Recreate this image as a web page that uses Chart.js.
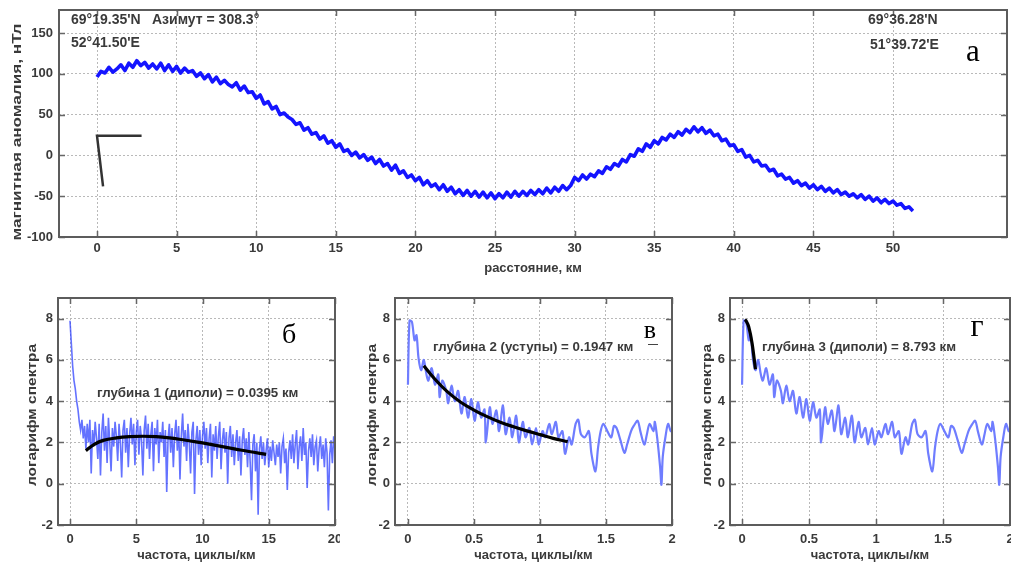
<!DOCTYPE html>
<html><head><meta charset="utf-8">
<script src="https://cdn.jsdelivr.net/npm/chart.js@4/dist/chart.umd.min.js"></script>
<style>
html,body{margin:0;padding:0;background:#fff;}
#fig{position:relative;width:1011px;height:567px;overflow:hidden;background:#fff;}
canvas{position:absolute;}
</style></head><body>
<div id="fig">
<canvas id="cTop" width="1011" height="285" style="left:0;top:0"></canvas>
<canvas id="cB" width="340" height="282" style="left:0;top:285px"></canvas>
<canvas id="cV" width="340" height="282" style="left:340px;top:285px"></canvas>
<canvas id="cG" width="331" height="282" style="left:680px;top:285px"></canvas>
</div>
<script>
// ---------------- DATA ----------------
// (а) magnetic anomaly profile, nT, sampled every 0.25 km from 0 km
const profileStartKm = 0;
const profileStepKm = 0.25;
const anomalyNT = [
 96,103,101,108,102,106,111,104,113,108,116,110,
 114,107,112,106,113,104,111,103,109,101,107,102,
 104,97,101,94,99,90,96,88,92,87,84,89,
 80,85,77,78,70,74,63,66,57,60,50,52,
 47,44,38,40,31,34,26,28,20,24,15,18,
 10,14,5,7,0,4,-3,1,-6,-2,-10,-5,
 -13,-10,-18,-12,-22,-19,-27,-24,-31,-27,-36,-31,
 -38,-35,-42,-36,-44,-39,-47,-42,-49,-43,-50,-44,
 -51,-45,-52,-46,-53,-47,-52,-45,-51,-44,-50,-44,
 -49,-43,-48,-42,-47,-40,-46,-39,-44,-37,-42,-37,
 -27,-31,-24,-29,-23,-26,-19,-22,-14,-17,-10,-13,
 -5,-8,1,-1,8,5,14,10,18,14,22,19,
 26,22,29,25,32,28,35,29,34,27,31,24,
 26,18,20,12,13,5,7,-2,0,-8,-6,-13,
 -12,-19,-17,-25,-23,-29,-27,-34,-31,-37,-34,-40,
 -36,-42,-38,-44,-40,-46,-42,-48,-45,-50,-47,-52,
 -48,-54,-50,-56,-52,-58,-54,-59,-56,-61,-59,-65,
 -63,-68
];
// azimuth marker (km, nT)
const azimuthMarkKm = [2.8, 0, 0.38];
const azimuthMarkNT = [24, 24, -38];
const topXTicks = [0,5,10,15,20,25,30,35,40,45,50];
const topYTicks = [-100,-50,0,50,100,150];

// (б) log spectrum, every 0.1 cycles/km from 0
const spectrumBStart = 0;
const spectrumBStep = 0.1;
const spectrumBLog = [
 7.9,6.8,5.7,5.0,4.6,4.0,3.6,3.0,2.6,3.1,
 2.2,2.8,1.7,2.9,2.0,3.1,0.5,2.6,1.8,3.0,
 2.2,1.2,2.9,0.4,2.5,3.4,1.6,2.8,1.0,3.2,
 2.0,0.6,2.7,1.8,3.0,2.3,1.1,2.9,2.0,0.3,
 2.6,3.1,1.5,2.7,0.8,2.4,3.2,1.9,2.9,0.9,
 2.5,3.1,1.4,2.8,2.1,0.4,2.6,3.3,1.7,2.9,
 1.2,2.4,3.0,0.6,2.7,1.9,3.1,1.0,2.5,2.0,
 3.0,1.3,2.6,-0.4,2.2,2.9,1.5,2.7,0.8,2.4,
 3.1,1.6,2.8,0.2,2.3,3.4,1.8,2.6,1.1,2.9,
 2.0,0.5,2.5,3.0,-0.5,2.1,2.8,1.4,2.6,0.9,
 2.3,3.0,1.7,2.7,1.0,2.2,2.9,0.3,2.4,1.6,
 2.8,1.2,2.3,3.0,0.7,2.1,2.7,1.5,2.5,0.0,
 2.2,2.8,1.3,2.4,0.9,2.0,2.6,1.1,2.3,0.4,
 2.1,2.7,1.4,2.2,0.8,2.5,1.0,-0.8,1.9,2.4,
 0.6,2.0,-1.5,1.7,2.3,1.2,2.0,0.9,1.6,2.2,
 0.8,1.8,1.1,2.1,1.5,0.9,1.9,1.3,2.0,0.5,
 1.8,2.2,1.0,1.7,-0.3,1.5,2.1,1.2,2.4,1.0,
 1.9,2.6,0.7,1.8,2.3,1.1,2.7,1.4,2.0,-0.2,
 1.6,2.2,1.3,2.4,0.9,1.8,2.1,0.6,1.7,2.3,
 1.2,1.9,0.8,2.2,1.5,-1.3,1.4,2.1,1.0,2.3,
 1.6
];
const fitBFreq = [1.2,1.8,2.5,3.5,4.5,5.5,6.5,7.5,8.5,9.5,10.5,11.5,12.5,13.5,14.8];
const fitBLog  = [1.6,1.9,2.1,2.22,2.28,2.3,2.28,2.22,2.13,2.03,1.92,1.8,1.68,1.56,1.42];

// (в), (г) low-frequency log spectrum
const spectrumFreq = [0,0.012,0.03,0.05,0.065,0.08,0.1,0.12,0.14,0.155,
 0.18,0.205,0.23,0.24,0.26,0.29,0.305,0.33,0.355,0.38,
 0.405,0.43,0.455,0.48,0.505,0.53,0.555,0.58,0.59,0.62,
 0.64,0.67,0.69,0.72,0.74,0.77,0.79,0.82,0.84,0.87,
 0.89,0.92,0.94,0.97,0.99,1.02,1.04,1.07,1.09,1.12,
 1.14,1.17,1.19,1.22,1.24,1.27,1.29,1.31,1.34,1.37,
 1.39,1.42,1.44,1.46,1.48,1.51,1.54,1.56,1.58,1.61,
 1.64,1.66,1.69,1.71,1.74,1.76,1.79,1.81,1.83,1.86,
 1.87,1.89,1.91,1.92,1.93,1.95,1.97,1.99,2.0];
const spectrumLog = [4.8,7.9,7.85,6.95,7.2,6.1,5.5,6.0,5.3,5.0,
 5.6,4.8,5.3,4.2,5.0,4.5,3.9,4.75,4.0,4.5,
 3.4,4.2,3.2,4.1,3.05,3.95,3.2,3.6,2.0,3.7,
 2.9,3.55,2.55,3.8,2.4,3.2,2.25,3.3,2.0,3.0,
 2.25,2.7,1.9,2.7,1.9,2.55,2.25,2.9,2.4,3.0,
 2.25,2.55,1.45,2.25,1.9,2.9,3.1,2.4,2.25,2.55,
 1.45,0.6,1.75,2.55,2.9,2.55,2.25,2.8,2.7,2.1,
 1.5,1.9,2.55,2.8,3.05,2.55,1.9,2.4,2.9,2.55,
 3.0,2.1,0.8,-0.05,1.3,2.25,2.9,2.55,2.6];
const fitVFreq = [0.12,0.2,0.3,0.4,0.5,0.6,0.7,0.8,0.9,1.0,1.1,1.21];
const fitVLog  = [5.72,5.1,4.45,3.95,3.57,3.25,2.98,2.76,2.56,2.38,2.2,2.04];
const fitGFreq = [0.02,0.03,0.05,0.075,0.1];
const fitGLog  = [7.95,7.9,7.6,6.8,5.55];

const bXTicks = [0,5,10,15,20];
const lowXTicks = [0,0.5,1,1.5,2];
const specYTicks = [-2,0,2,4,6,8];

// ---------------- HELPERS ----------------
const SANS = "'Liberation Sans', Arial, sans-serif";
const SERIF = "'Liberation Serif', 'Times New Roman', serif";
const TXT = '#3a3a3a';
const pairs = (xs, ys) => ys.map((v, i) => ({x: xs[i], y: v}));
const stepped = (x0, dx, ys) => ys.map((v, i) => ({x: +(x0 + i * dx).toFixed(4), y: v}));

const framePlugin = {
  id: 'frame',
  afterDraw(chart, args, opts) {
    const {ctx, chartArea: a, scales: {x, y}} = chart;
    ctx.save();
    ctx.strokeStyle = '#666'; ctx.lineWidth = 1.5;
    const tl = 6;
    ctx.beginPath();
    x.ticks.forEach(t => { const p = Math.round(x.getPixelForValue(t.value)) + 0.5;
      ctx.moveTo(p, a.bottom); ctx.lineTo(p, a.bottom - tl);
      ctx.moveTo(p, a.top); ctx.lineTo(p, a.top + tl); });
    y.ticks.forEach(t => { const p = Math.round(y.getPixelForValue(t.value)) + 0.5;
      ctx.moveTo(a.left, p); ctx.lineTo(a.left + tl, p);
      ctx.moveTo(a.right, p); ctx.lineTo(a.right - tl, p); });
    ctx.stroke();
    ctx.lineWidth = 2; ctx.strokeStyle = '#5c5c5c';
    ctx.strokeRect(a.left, a.top, a.right - a.left, a.bottom - a.top);
    (opts.texts || []).forEach(t => {
      ctx.font = t.font; ctx.fillStyle = t.color || TXT;
      ctx.textAlign = t.align || 'left'; ctx.textBaseline = t.baseline || 'middle';
      ctx.fillText(t.text, t.x, t.y);
    });
    (opts.marks || []).forEach(m => {
      ctx.strokeStyle = m.color; ctx.lineWidth = m.width;
      ctx.beginPath(); ctx.moveTo(m.x1, m.y1); ctx.lineTo(m.x2, m.y2); ctx.stroke();
    });
    const yt = opts.yTitle;
    if (yt) {
      ctx.save();
      ctx.translate(yt.x, yt.y);
      ctx.rotate(-Math.PI / 2);
      ctx.scale(yt.stretch, 1);
      ctx.font = `bold 13px ${SANS}`; ctx.fillStyle = TXT;
      ctx.textAlign = 'center'; ctx.textBaseline = 'middle';
      ctx.fillText(yt.text, 0, 0);
      ctx.restore();
    }
    ctx.restore();
  }
};

function axis(o) {
  return {
    type: 'linear', min: o.min, max: o.max,
    afterBuildTicks: s => { s.ticks = o.ticks.map(v => ({value: v})); },
    afterFit: s => { if (o.w !== undefined) s.width = o.w; if (o.h !== undefined) s.height = o.h;
      s.paddingLeft = 0; s.paddingRight = 0; s.paddingTop = 0; s.paddingBottom = 0; },
    grid: {color: '#b9b9b9', lineWidth: 1, drawTicks: false},
    border: {display: false, dash: [2, 2]},
    ticks: {font: {family: SANS, size: 13, weight: 'bold'}, color: TXT, padding: o.tickPad,
      autoSkip: false, maxRotation: 0, callback: v => String(v)},
    title: {display: !!o.title, text: o.title || '', color: TXT, font: {family: SANS, size: 13, weight: 'bold'},
      padding: o.titlePad}
  };
}

function makeChart(id, cfg) {
  return new Chart(document.getElementById(id), {
    type: 'line',
    data: {datasets: cfg.datasets},
    options: {
      responsive: false, animation: false, devicePixelRatio: 1,
      layout: {padding: cfg.padding},
      elements: {point: {radius: 0}},
      plugins: {legend: {display: false}, tooltip: {enabled: false},
        frame: {texts: cfg.texts, marks: cfg.marks || [], yTitle: cfg.yTitle}},
      scales: {x: axis(cfg.x), y: axis(cfg.y)}
    },
    plugins: [framePlugin]
  });
}

// ---------------- (а) ----------------
makeChart('cTop', {
  padding: {left: 0, top: 10, right: 4, bottom: 0},
  datasets: [
    {data: stepped(profileStartKm, profileStepKm, anomalyNT), borderColor: '#1414ff', borderWidth: 3.6, tension: 0, borderJoinStyle: 'round', order: 2},
    {data: pairs(azimuthMarkKm, azimuthMarkNT), borderColor: '#333', borderWidth: 2.5, tension: 0, order: 1}
  ],
  x: {min: -2.387, max: 57.16, ticks: topXTicks, h: 48, tickPad: 4, title: 'расстояние, км', titlePad: {top: 2, bottom: 9}},
  y: {min: -100, max: 178.2, ticks: topYTicks, w: 59, tickPad: 6},
  yTitle: {text: 'магнитная аномалия, нТл', x: 17, y: 132, stretch: 1.32},
  texts: [
    {text: "69°19.35'N", x: 71, y: 20, font: `bold 14px ${SANS}`},
    {text: "Азимут = 308.3°", x: 152, y: 20, font: `bold 14px ${SANS}`},
    {text: "52°41.50'E", x: 71, y: 43, font: `bold 14px ${SANS}`},
    {text: "69°36.28'N", x: 868, y: 20, font: `bold 14px ${SANS}`},
    {text: "51°39.72'E", x: 870, y: 45, font: `bold 14px ${SANS}`},
    {text: "a", x: 973, y: 61, font: `31px ${SERIF}`, color: '#000', align: 'center', baseline: 'alphabetic'}
  ]
});

// ---------------- (б) ----------------
makeChart('cB', {
  padding: {left: 0, top: 13, right: 5, bottom: 0},
  datasets: [
    {data: stepped(spectrumBStart, spectrumBStep, spectrumBLog), borderColor: 'rgba(40,60,255,0.72)', borderWidth: 1.6, tension: 0, order: 2},
    {data: pairs(fitBFreq, fitBLog), borderColor: '#000', borderWidth: 3.2, tension: 0.4, order: 1}
  ],
  x: {min: -0.906, max: 20, ticks: bXTicks, h: 42, tickPad: 7, title: 'частота, циклы/км', titlePad: {top: 2, bottom: 4}},
  y: {min: -2, max: 9, ticks: specYTicks, w: 58, tickPad: 5},
  yTitle: {text: 'логарифм спектра', x: 32, y: 130, stretch: 1.19},
  texts: [
    {text: 'глубина 1 (диполи) = 0.0395 км', x: 97, y: 108, font: `bold 13.3px ${SANS}`},
    {text: 'б', x: 289, y: 58, font: `28px ${SERIF}`, color: '#000', align: 'center', baseline: 'alphabetic'}
  ]
});

// ---------------- (в) ----------------
makeChart('cV', {
  padding: {left: 0, top: 13, right: 8, bottom: 0},
  datasets: [
    {data: pairs(spectrumFreq, spectrumLog), borderColor: '#6f7dff', borderWidth: 2.2, tension: 0.3, order: 2},
    {data: pairs(fitVFreq, fitVLog), borderColor: '#000', borderWidth: 3.2, tension: 0.4, order: 1}
  ],
  x: {min: -0.098, max: 2, ticks: lowXTicks, h: 42, tickPad: 7, title: 'частота, циклы/км', titlePad: {top: 2, bottom: 4}},
  y: {min: -2, max: 9, ticks: specYTicks, w: 55, tickPad: 5},
  yTitle: {text: 'логарифм спектра', x: 32, y: 130, stretch: 1.19},
  texts: [
    {text: 'глубина 2 (уступы) = 0.1947 км', x: 93, y: 62, font: `bold 13.3px ${SANS}`},
    {text: 'в', x: 310, y: 53, font: `26px ${SERIF}`, color: '#000', align: 'center', baseline: 'alphabetic'}
  ],
  marks: [{x1: 308, y1: 59.5, x2: 318, y2: 59.5, color: '#444', width: 1}]
});

// ---------------- (г) ----------------
makeChart('cG', {
  padding: {left: 0, top: 13, right: 1, bottom: 0},
  datasets: [
    {data: pairs(spectrumFreq, spectrumLog), borderColor: '#6f7dff', borderWidth: 2.2, tension: 0.3, order: 2},
    {data: pairs(fitGFreq, fitGLog), borderColor: '#000', borderWidth: 3.2, tension: 0.3, order: 1}
  ],
  x: {min: -0.09, max: 2, ticks: lowXTicks, h: 42, tickPad: 7, title: 'частота, циклы/км', titlePad: {top: 2, bottom: 4}},
  y: {min: -2, max: 9, ticks: specYTicks, w: 50, tickPad: 5},
  yTitle: {text: 'логарифм спектра', x: 27, y: 130, stretch: 1.19},
  texts: [
    {text: 'глубина 3 (диполи) = 8.793 км', x: 82, y: 62, font: `bold 13.3px ${SANS}`},
    {text: 'г', x: 297, y: 51, font: `32px ${SERIF}`, color: '#000', align: 'center', baseline: 'alphabetic'}
  ]
});
</script>
</body></html>
